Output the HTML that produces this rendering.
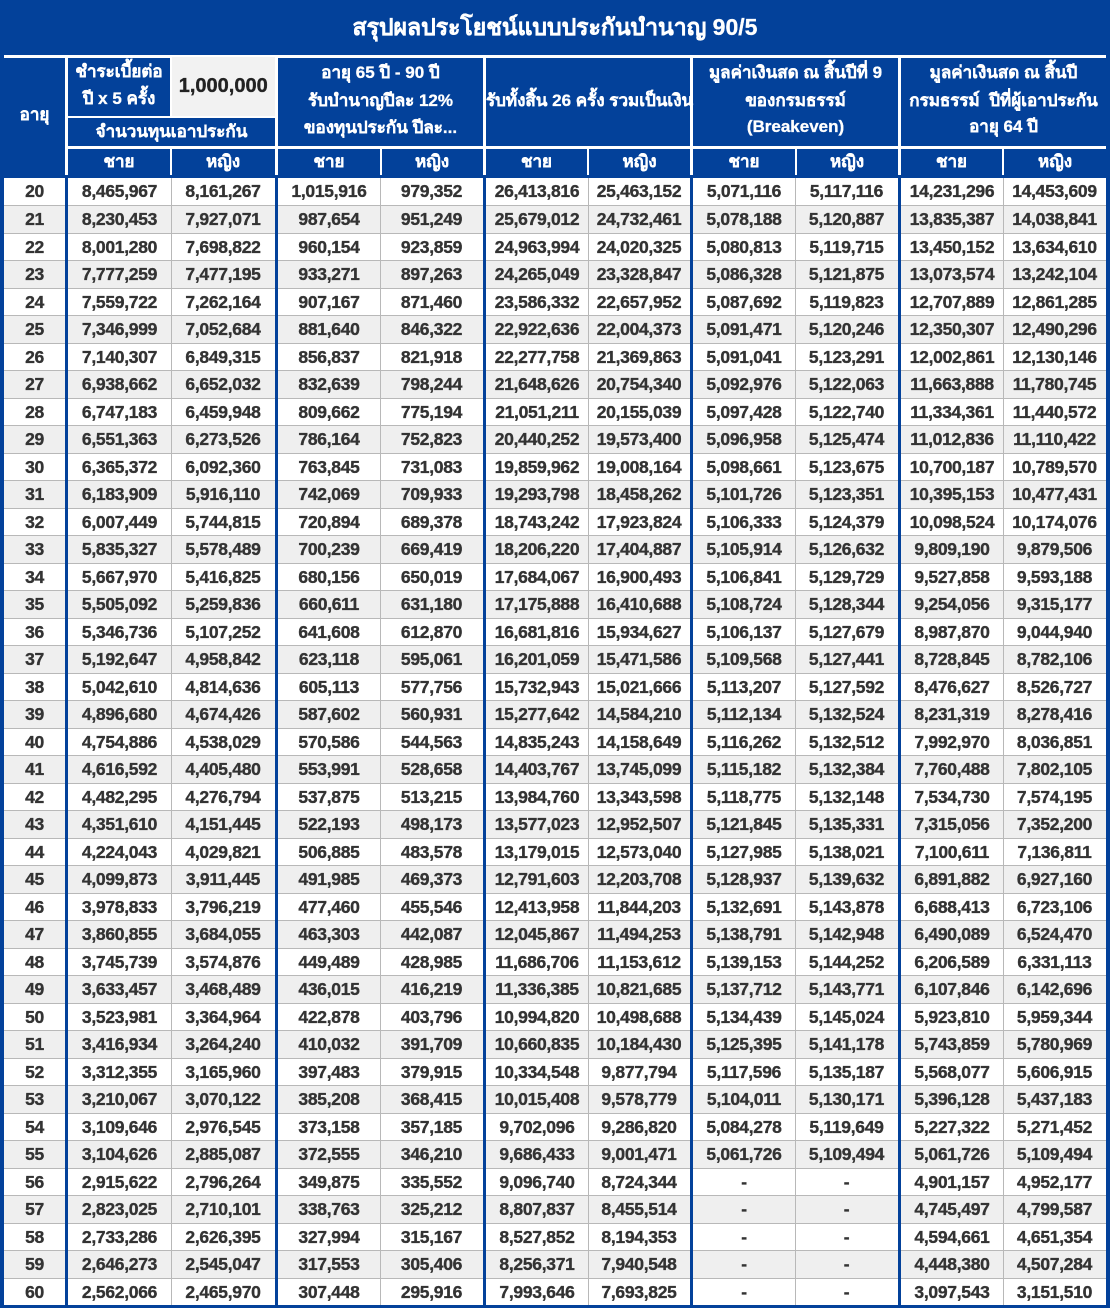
<!DOCTYPE html>
<html><head><meta charset="utf-8">
<style>
*{margin:0;padding:0;box-sizing:border-box}
html,body{width:1110px;height:1308px;overflow:hidden}
body{background:#03419a;position:relative;font-family:"Liberation Sans","DejaVu Sans",sans-serif;font-weight:bold}
.a{position:absolute}
.w{position:absolute;background:#fff}
.t{position:absolute;color:#fff;text-align:center;white-space:nowrap;font-size:17px;line-height:22px;-webkit-text-stroke:0.3px #fff}
#title{left:0;top:0;width:1110px;height:55px;line-height:55px;font-size:23px}
#data{position:absolute;left:4px;top:177.5px;width:1102px;height:1127.5px;background:#fff}
.r{height:27.5px;display:flex;border-top:1px solid #b8b8b8;background:#fff}
.r:first-child{border-top:none}
.r.g{background:#efefef}
.r span{display:block;text-align:center;color:#333;font-size:17.5px;letter-spacing:-0.3px;line-height:26.5px;white-space:nowrap;-webkit-text-stroke:0.35px #333}
.r:first-child span{line-height:27.5px}
.r span:nth-child(1){width:61px}
.r span:nth-child(2){width:103px;margin-left:3px}
.r span:nth-child(3){width:104px}
.r span:nth-child(4){width:102px;margin-left:3px}
.r span:nth-child(5){width:103px}
.r span:nth-child(6){width:102px;margin-left:3px}
.r span:nth-child(7){width:102px}
.r span:nth-child(8){width:102px;margin-left:3px}
.r span:nth-child(9){width:103px}
.r span:nth-child(10){width:102px;margin-left:3px}
.r span:nth-child(11){width:103px}
.bb{position:absolute;top:0;height:1127.5px;width:3.2px;background:#03419a}
.gl{position:absolute;top:0;height:1127.5px;width:1px;background:#b8b8b8}
</style></head><body>
<div class="t" id="title">สรุปผลประโยชน์แบบประกันบำนาญ 90/5</div>

<div class="w" style="left:4px;top:55px;width:1102px;height:2.5px"></div>
<div class="w" style="left:68px;top:146px;width:1038px;height:2.5px"></div>
<div class="w" style="left:68px;top:116px;width:207px;height:2px"></div>
<div class="w" style="left:65px;top:57px;width:3px;height:118px"></div>
<div class="w" style="left:275px;top:57px;width:3px;height:118px"></div>
<div class="w" style="left:483px;top:57px;width:3px;height:118px"></div>
<div class="w" style="left:690px;top:57px;width:3px;height:118px"></div>
<div class="w" style="left:898px;top:57px;width:3px;height:118px"></div>
<div class="w" style="left:170px;top:57px;width:1.5px;height:59px"></div>
<div class="w" style="left:170px;top:148px;width:2px;height:27px"></div>
<div class="w" style="left:379.5px;top:148px;width:2px;height:27px"></div>
<div class="w" style="left:587px;top:148px;width:2px;height:27px"></div>
<div class="w" style="left:794.5px;top:148px;width:2px;height:27px"></div>
<div class="w" style="left:1002px;top:148px;width:2px;height:27px"></div>
<div class="a" style="left:171.5px;top:57px;width:103.5px;height:59px;background:#f2f2f2;color:#222;font-size:20px;line-height:59px;text-align:center;-webkit-text-stroke:0.35px #222">1,000,000</div>

<div class="t" style="left:4px;top:104px;width:61px">อายุ</div>
<div class="t" style="left:68px;top:61px;width:102px">ชำระเบี้ยต่อ</div>
<div class="t" style="left:68px;top:88px;width:102px">ปี x 5 ครั้ง</div>
<div class="t" style="left:68px;top:121px;width:207px">จำนวนทุนเอาประกัน</div>

<div class="t" style="left:278px;top:62px;width:205px">อายุ 65 ปี - 90 ปี</div>
<div class="t" style="left:278px;top:90px;width:205px">รับบำนาญปีละ 12%</div>
<div class="t" style="left:278px;top:117px;width:205px">ของทุนประกัน ปีละ...</div>

<div class="t" style="left:486px;top:90px;width:204px">รับทั้งสิ้น 26 ครั้ง รวมเป็นเงิน</div>

<div class="t" style="left:693px;top:62px;width:205px">มูลค่าเงินสด ณ สิ้นปีที่ 9</div>
<div class="t" style="left:693px;top:90px;width:205px">ของกรมธรรม์</div>
<div class="t" style="left:693px;top:116px;width:205px">(Breakeven)</div>

<div class="t" style="left:901px;top:62px;width:205px">มูลค่าเงินสด ณ สิ้นปี</div>
<div class="t" style="left:901px;top:90px;width:205px">กรมธรรม์&nbsp; ปีที่ผู้เอาประกัน</div>
<div class="t" style="left:901px;top:116px;width:205px">อายุ 64 ปี</div>

<div class="t" style="left:68px;top:151px;width:102px">ชาย</div>
<div class="t" style="left:171px;top:151px;width:104px">หญิง</div>
<div class="t" style="left:278px;top:151px;width:102px">ชาย</div>
<div class="t" style="left:381px;top:151px;width:102px">หญิง</div>
<div class="t" style="left:486px;top:151px;width:101px">ชาย</div>
<div class="t" style="left:589px;top:151px;width:101px">หญิง</div>
<div class="t" style="left:693px;top:151px;width:102px">ชาย</div>
<div class="t" style="left:796px;top:151px;width:102px">หญิง</div>
<div class="t" style="left:901px;top:151px;width:101px">ชาย</div>
<div class="t" style="left:1004px;top:151px;width:102px">หญิง</div>

<div id="data">
<div class="r"><span>20</span><span>8,465,967</span><span>8,161,267</span><span>1,015,916</span><span>979,352</span><span>26,413,816</span><span>25,463,152</span><span>5,071,116</span><span>5,117,116</span><span>14,231,296</span><span>14,453,609</span></div>
<div class="r g"><span>21</span><span>8,230,453</span><span>7,927,071</span><span>987,654</span><span>951,249</span><span>25,679,012</span><span>24,732,461</span><span>5,078,188</span><span>5,120,887</span><span>13,835,387</span><span>14,038,841</span></div>
<div class="r"><span>22</span><span>8,001,280</span><span>7,698,822</span><span>960,154</span><span>923,859</span><span>24,963,994</span><span>24,020,325</span><span>5,080,813</span><span>5,119,715</span><span>13,450,152</span><span>13,634,610</span></div>
<div class="r g"><span>23</span><span>7,777,259</span><span>7,477,195</span><span>933,271</span><span>897,263</span><span>24,265,049</span><span>23,328,847</span><span>5,086,328</span><span>5,121,875</span><span>13,073,574</span><span>13,242,104</span></div>
<div class="r"><span>24</span><span>7,559,722</span><span>7,262,164</span><span>907,167</span><span>871,460</span><span>23,586,332</span><span>22,657,952</span><span>5,087,692</span><span>5,119,823</span><span>12,707,889</span><span>12,861,285</span></div>
<div class="r g"><span>25</span><span>7,346,999</span><span>7,052,684</span><span>881,640</span><span>846,322</span><span>22,922,636</span><span>22,004,373</span><span>5,091,471</span><span>5,120,246</span><span>12,350,307</span><span>12,490,296</span></div>
<div class="r"><span>26</span><span>7,140,307</span><span>6,849,315</span><span>856,837</span><span>821,918</span><span>22,277,758</span><span>21,369,863</span><span>5,091,041</span><span>5,123,291</span><span>12,002,861</span><span>12,130,146</span></div>
<div class="r g"><span>27</span><span>6,938,662</span><span>6,652,032</span><span>832,639</span><span>798,244</span><span>21,648,626</span><span>20,754,340</span><span>5,092,976</span><span>5,122,063</span><span>11,663,888</span><span>11,780,745</span></div>
<div class="r"><span>28</span><span>6,747,183</span><span>6,459,948</span><span>809,662</span><span>775,194</span><span>21,051,211</span><span>20,155,039</span><span>5,097,428</span><span>5,122,740</span><span>11,334,361</span><span>11,440,572</span></div>
<div class="r g"><span>29</span><span>6,551,363</span><span>6,273,526</span><span>786,164</span><span>752,823</span><span>20,440,252</span><span>19,573,400</span><span>5,096,958</span><span>5,125,474</span><span>11,012,836</span><span>11,110,422</span></div>
<div class="r"><span>30</span><span>6,365,372</span><span>6,092,360</span><span>763,845</span><span>731,083</span><span>19,859,962</span><span>19,008,164</span><span>5,098,661</span><span>5,123,675</span><span>10,700,187</span><span>10,789,570</span></div>
<div class="r g"><span>31</span><span>6,183,909</span><span>5,916,110</span><span>742,069</span><span>709,933</span><span>19,293,798</span><span>18,458,262</span><span>5,101,726</span><span>5,123,351</span><span>10,395,153</span><span>10,477,431</span></div>
<div class="r"><span>32</span><span>6,007,449</span><span>5,744,815</span><span>720,894</span><span>689,378</span><span>18,743,242</span><span>17,923,824</span><span>5,106,333</span><span>5,124,379</span><span>10,098,524</span><span>10,174,076</span></div>
<div class="r g"><span>33</span><span>5,835,327</span><span>5,578,489</span><span>700,239</span><span>669,419</span><span>18,206,220</span><span>17,404,887</span><span>5,105,914</span><span>5,126,632</span><span>9,809,190</span><span>9,879,506</span></div>
<div class="r"><span>34</span><span>5,667,970</span><span>5,416,825</span><span>680,156</span><span>650,019</span><span>17,684,067</span><span>16,900,493</span><span>5,106,841</span><span>5,129,729</span><span>9,527,858</span><span>9,593,188</span></div>
<div class="r g"><span>35</span><span>5,505,092</span><span>5,259,836</span><span>660,611</span><span>631,180</span><span>17,175,888</span><span>16,410,688</span><span>5,108,724</span><span>5,128,344</span><span>9,254,056</span><span>9,315,177</span></div>
<div class="r"><span>36</span><span>5,346,736</span><span>5,107,252</span><span>641,608</span><span>612,870</span><span>16,681,816</span><span>15,934,627</span><span>5,106,137</span><span>5,127,679</span><span>8,987,870</span><span>9,044,940</span></div>
<div class="r g"><span>37</span><span>5,192,647</span><span>4,958,842</span><span>623,118</span><span>595,061</span><span>16,201,059</span><span>15,471,586</span><span>5,109,568</span><span>5,127,441</span><span>8,728,845</span><span>8,782,106</span></div>
<div class="r"><span>38</span><span>5,042,610</span><span>4,814,636</span><span>605,113</span><span>577,756</span><span>15,732,943</span><span>15,021,666</span><span>5,113,207</span><span>5,127,592</span><span>8,476,627</span><span>8,526,727</span></div>
<div class="r g"><span>39</span><span>4,896,680</span><span>4,674,426</span><span>587,602</span><span>560,931</span><span>15,277,642</span><span>14,584,210</span><span>5,112,134</span><span>5,132,524</span><span>8,231,319</span><span>8,278,416</span></div>
<div class="r"><span>40</span><span>4,754,886</span><span>4,538,029</span><span>570,586</span><span>544,563</span><span>14,835,243</span><span>14,158,649</span><span>5,116,262</span><span>5,132,512</span><span>7,992,970</span><span>8,036,851</span></div>
<div class="r g"><span>41</span><span>4,616,592</span><span>4,405,480</span><span>553,991</span><span>528,658</span><span>14,403,767</span><span>13,745,099</span><span>5,115,182</span><span>5,132,384</span><span>7,760,488</span><span>7,802,105</span></div>
<div class="r"><span>42</span><span>4,482,295</span><span>4,276,794</span><span>537,875</span><span>513,215</span><span>13,984,760</span><span>13,343,598</span><span>5,118,775</span><span>5,132,148</span><span>7,534,730</span><span>7,574,195</span></div>
<div class="r g"><span>43</span><span>4,351,610</span><span>4,151,445</span><span>522,193</span><span>498,173</span><span>13,577,023</span><span>12,952,507</span><span>5,121,845</span><span>5,135,331</span><span>7,315,056</span><span>7,352,200</span></div>
<div class="r"><span>44</span><span>4,224,043</span><span>4,029,821</span><span>506,885</span><span>483,578</span><span>13,179,015</span><span>12,573,040</span><span>5,127,985</span><span>5,138,021</span><span>7,100,611</span><span>7,136,811</span></div>
<div class="r g"><span>45</span><span>4,099,873</span><span>3,911,445</span><span>491,985</span><span>469,373</span><span>12,791,603</span><span>12,203,708</span><span>5,128,937</span><span>5,139,632</span><span>6,891,882</span><span>6,927,160</span></div>
<div class="r"><span>46</span><span>3,978,833</span><span>3,796,219</span><span>477,460</span><span>455,546</span><span>12,413,958</span><span>11,844,203</span><span>5,132,691</span><span>5,143,878</span><span>6,688,413</span><span>6,723,106</span></div>
<div class="r g"><span>47</span><span>3,860,855</span><span>3,684,055</span><span>463,303</span><span>442,087</span><span>12,045,867</span><span>11,494,253</span><span>5,138,791</span><span>5,142,948</span><span>6,490,089</span><span>6,524,470</span></div>
<div class="r"><span>48</span><span>3,745,739</span><span>3,574,876</span><span>449,489</span><span>428,985</span><span>11,686,706</span><span>11,153,612</span><span>5,139,153</span><span>5,144,252</span><span>6,206,589</span><span>6,331,113</span></div>
<div class="r g"><span>49</span><span>3,633,457</span><span>3,468,489</span><span>436,015</span><span>416,219</span><span>11,336,385</span><span>10,821,685</span><span>5,137,712</span><span>5,143,771</span><span>6,107,846</span><span>6,142,696</span></div>
<div class="r"><span>50</span><span>3,523,981</span><span>3,364,964</span><span>422,878</span><span>403,796</span><span>10,994,820</span><span>10,498,688</span><span>5,134,439</span><span>5,145,024</span><span>5,923,810</span><span>5,959,344</span></div>
<div class="r g"><span>51</span><span>3,416,934</span><span>3,264,240</span><span>410,032</span><span>391,709</span><span>10,660,835</span><span>10,184,430</span><span>5,125,395</span><span>5,141,178</span><span>5,743,859</span><span>5,780,969</span></div>
<div class="r"><span>52</span><span>3,312,355</span><span>3,165,960</span><span>397,483</span><span>379,915</span><span>10,334,548</span><span>9,877,794</span><span>5,117,596</span><span>5,135,187</span><span>5,568,077</span><span>5,606,915</span></div>
<div class="r g"><span>53</span><span>3,210,067</span><span>3,070,122</span><span>385,208</span><span>368,415</span><span>10,015,408</span><span>9,578,779</span><span>5,104,011</span><span>5,130,171</span><span>5,396,128</span><span>5,437,183</span></div>
<div class="r"><span>54</span><span>3,109,646</span><span>2,976,545</span><span>373,158</span><span>357,185</span><span>9,702,096</span><span>9,286,820</span><span>5,084,278</span><span>5,119,649</span><span>5,227,322</span><span>5,271,452</span></div>
<div class="r g"><span>55</span><span>3,104,626</span><span>2,885,087</span><span>372,555</span><span>346,210</span><span>9,686,433</span><span>9,001,471</span><span>5,061,726</span><span>5,109,494</span><span>5,061,726</span><span>5,109,494</span></div>
<div class="r"><span>56</span><span>2,915,622</span><span>2,796,264</span><span>349,875</span><span>335,552</span><span>9,096,740</span><span>8,724,344</span><span>-</span><span>-</span><span>4,901,157</span><span>4,952,177</span></div>
<div class="r g"><span>57</span><span>2,823,025</span><span>2,710,101</span><span>338,763</span><span>325,212</span><span>8,807,837</span><span>8,455,514</span><span>-</span><span>-</span><span>4,745,497</span><span>4,799,587</span></div>
<div class="r"><span>58</span><span>2,733,286</span><span>2,626,395</span><span>327,994</span><span>315,167</span><span>8,527,852</span><span>8,194,353</span><span>-</span><span>-</span><span>4,594,661</span><span>4,651,354</span></div>
<div class="r g"><span>59</span><span>2,646,273</span><span>2,545,047</span><span>317,553</span><span>305,406</span><span>8,256,371</span><span>7,940,548</span><span>-</span><span>-</span><span>4,448,380</span><span>4,507,284</span></div>
<div class="r"><span>60</span><span>2,562,066</span><span>2,465,970</span><span>307,448</span><span>295,916</span><span>7,993,646</span><span>7,693,825</span><span>-</span><span>-</span><span>3,097,543</span><span>3,151,510</span></div>

<div class="gl" style="left:166.5px"></div>
<div class="gl" style="left:376px"></div>
<div class="gl" style="left:583.5px"></div>
<div class="gl" style="left:791px"></div>
<div class="gl" style="left:998.5px"></div>
<div class="bb" style="left:61px"></div>
<div class="bb" style="left:271px"></div>
<div class="bb" style="left:479px"></div>
<div class="bb" style="left:686px"></div>
<div class="bb" style="left:894px"></div>
</div>
</body></html>
